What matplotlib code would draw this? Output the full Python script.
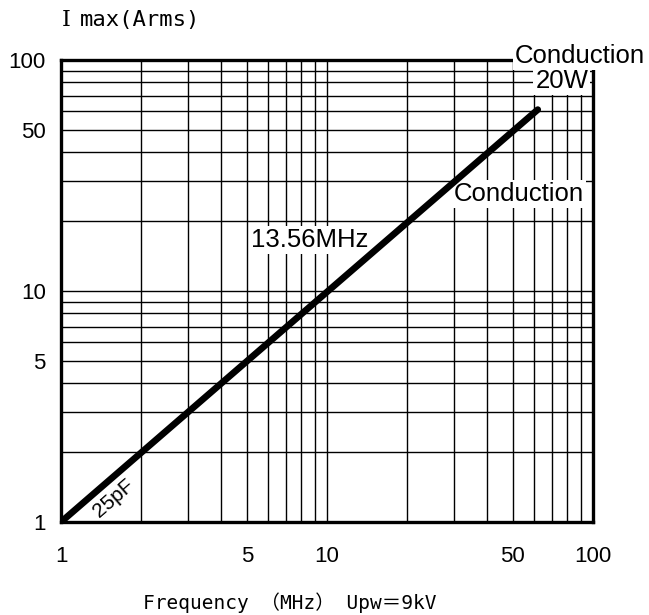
import numpy as np
import matplotlib.pyplot as plt
from matplotlib.ticker import FixedLocator, NullFormatter

# capacitor current limit line (25pF, Upw=9kV)
freq = [1, 62]
imax = [1, 61]

tick_vals = [1, 5, 10, 50, 100]
tick_text = ['1', '5', '10', '50', '100']
grid_vals = [m * d for d in (1, 10) for m in range(2, 10)]

mono = ['DejaVu Sans Mono', 'Noto Sans CJK JP']
plt.rcParams['font.family'] = ['Liberation Sans', 'DejaVu Sans']

fig = plt.figure(figsize=(6.49, 6.15), dpi=100)
ax = fig.add_axes([0.094, 0.1512, 0.8197, 0.7512])

ax.set_xscale('log')
ax.set_yscale('log')
ax.set_xlim(1, 100)
ax.set_ylim(1, 100)

ax.xaxis.set_major_locator(FixedLocator(tick_vals))
ax.yaxis.set_major_locator(FixedLocator(tick_vals))
ax.set_xticklabels(tick_text)
ax.set_yticklabels(tick_text)
ax.xaxis.set_minor_locator(FixedLocator(grid_vals))
ax.yaxis.set_minor_locator(FixedLocator(grid_vals))
ax.xaxis.set_minor_formatter(NullFormatter())
ax.yaxis.set_minor_formatter(NullFormatter())
ax.tick_params(which='both', length=0, labelsize=16)
ax.tick_params(axis='x', pad=17)
ax.tick_params(axis='y', pad=11)

ax.grid(True, which='both', color='black', linewidth=1.0)
for s in ax.spines.values():
    s.set_linewidth(2.4)
    s.set_zorder(3)

ax.plot(freq, imax, color='black', linewidth=4.8, solid_capstyle='round', zorder=4)

box = dict(facecolor='white', edgecolor='none', pad=1.5)
ax.text(8.6, 16.6, '13.56MHz', fontsize=18.5, ha='center', va='center', bbox=box, zorder=3.5)
ax.text(52.7, 26.3, 'Conduction', fontsize=18.5, ha='center', va='center', bbox=box, zorder=3.5)
ax.text(89.5, 104, 'Conduction', fontsize=18.5, ha='center', va='center', bbox=box,
        zorder=5, clip_on=False)
ax.text(76.4, 81, '20W', fontsize=18.5, ha='center', va='center', bbox=box, zorder=3.5)
ax.text(1.58, 1.27, '25pF', fontsize=15, ha='center', va='center', rotation=41,
        rotation_mode='anchor', zorder=5)

fig.text(62 / 649, 1 - 20 / 615, 'Ⅰ', family=['DejaVu Serif', 'Noto Sans CJK JP'],
         fontsize=16, ha='left', va='center')
fig.text(80 / 649, 1 - 20 / 615, 'max(Arms)', family=mono, fontsize=16,
         ha='left', va='center')
fig.text(290 / 649, 1 - 603 / 615, 'Frequency （MHz） Upw＝9kV', family=mono,
         fontsize=14, ha='center', va='center')

fig.savefig('out.png', dpi=100)
